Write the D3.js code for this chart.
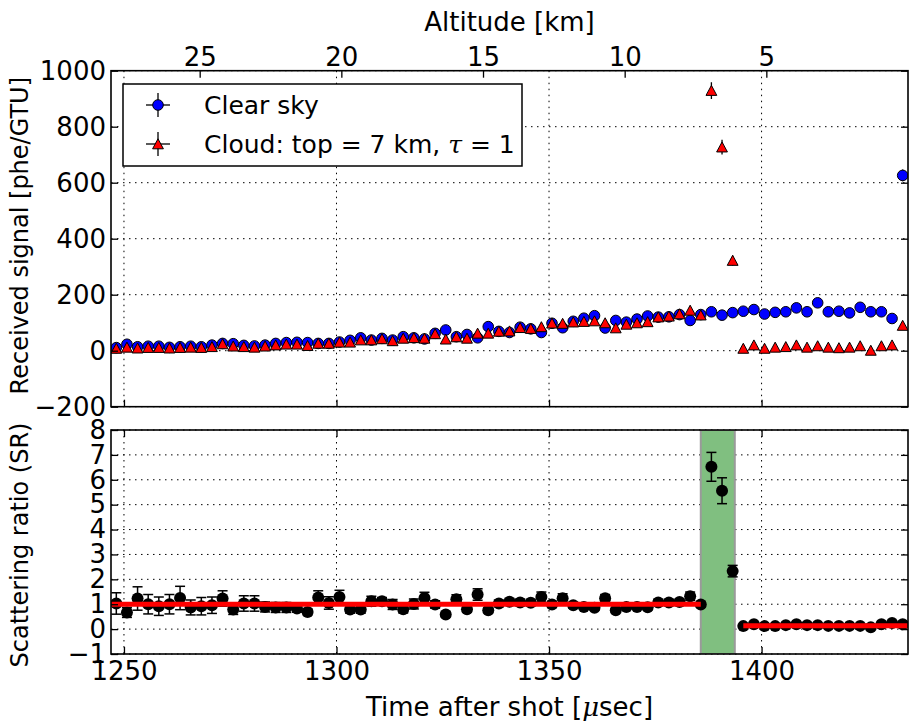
<!DOCTYPE html>
<html>
<head>
<meta charset="utf-8">
<script src="https://cdn.jsdelivr.net/npm/d3@7"></script>
<style>
  body { margin: 0; background: #fff; }
  svg { display: block; font-family: "DejaVu Sans", sans-serif; }
</style>
</head>
<body>
<svg id="chart" width="910" height="722"></svg>
<script>
// time after shot [usec], one point per GTU
const times = [
  1248.2, 1250.7, 1253.2, 1255.7, 1258.2, 1260.7, 1263.2, 1265.7, 1268.2, 1270.7,
  1273.2, 1275.7, 1278.2, 1280.7, 1283.2, 1285.7, 1288.2, 1290.7, 1293.2, 1295.7,
  1298.2, 1300.7, 1303.2, 1305.7, 1308.2, 1310.7, 1313.2, 1315.7, 1318.2, 1320.7,
  1323.2, 1325.7, 1328.2, 1330.7, 1333.2, 1335.7, 1338.2, 1340.7, 1343.2, 1345.7,
  1348.2, 1350.7, 1353.2, 1355.7, 1358.2, 1360.7, 1363.2, 1365.7, 1368.2, 1370.7,
  1373.2, 1375.7, 1378.2, 1380.7, 1383.2, 1385.7, 1388.2, 1390.7, 1393.2, 1395.7,
  1398.2, 1400.7, 1403.2, 1405.7, 1408.2, 1410.7, 1413.2, 1415.7, 1418.2, 1420.7,
  1423.2, 1425.7, 1428.2, 1430.7, 1433.2
];

// received signal [phe/GTU]
const clearSky = [
  11, 23, 14, 16, 16, 12, 14, 16, 14, 20,
  26, 25, 19, 17, 20, 26, 29, 30, 29, 26,
  26, 31, 37, 46, 38, 44, 38, 50, 46, 42,
  62, 74, 50, 58, 46, 86, 69, 65, 84, 78,
  65, 98, 82, 105, 116, 125, 81, 108, 102, 113,
  124, 120, 121, 129, 108, 129, 139, 127, 136, 141,
  147, 131, 137, 139, 153, 139, 171, 139, 141, 135,
  155, 139, 139, 115, 626
];
const clearSkyErr = [
  3, 5, 4, 4, 4, 3, 4, 4, 4, 4,
  5, 5, 4, 4, 4, 5, 5, 5, 5, 5,
  5, 6, 6, 7, 6, 7, 6, 7, 7, 6,
  8, 9, 7, 8, 7, 9, 8, 8, 9, 9,
  8, 10, 9, 10, 11, 11, 9, 10, 10, 11,
  11, 11, 11, 11, 10, 11, 12, 11, 12, 12,
  12, 11, 12, 12, 12, 12, 13, 12, 12, 12,
  12, 12, 12, 11, 21
];
const cloud = [
  8, 12, 9, 11, 11, 9, 11, 12, 11, 14,
  24, 16, 14, 12, 16, 20, 23, 23, 18, 26,
  26, 30, 30, 38, 38, 42, 35, 44, 46, 44,
  60, 41, 49, 44, 62, 62, 69, 70, 82, 79,
  85, 98, 97, 102, 104, 106, 99, 81, 94, 99,
  103, 120, 123, 131, 144, 127, 929, 727, 322, 8,
  20, 8, 12, 14, 20, 12, 17, 12, 10, 12,
  17, 1, 17, 20, 90
];
const cloudErr = [
  3, 3, 3, 3, 3, 3, 3, 3, 3, 4,
  5, 4, 4, 3, 4, 4, 5, 5, 4, 5,
  5, 5, 5, 6, 6, 6, 6, 7, 7, 7,
  8, 6, 7, 7, 8, 8, 8, 8, 9, 9,
  9, 10, 10, 10, 10, 10, 10, 9, 10, 10,
  10, 11, 11, 11, 12, 11, 30, 26, 18, 3,
  4, 3, 3, 4, 4, 3, 4, 3, 3, 3,
  4, 1, 4, 4, 9
];

// scattering ratio (SR)
const scatterRatio = [
  1.03, 0.67, 1.23, 1.0, 0.92, 1.0, 1.25, 0.87, 0.92, 0.96,
  1.23, 0.79, 1.03, 1.03, 0.89, 0.87, 0.87, 0.83, 0.69, 1.27,
  1.05, 1.29, 0.79, 0.79, 1.12, 1.12, 0.99, 0.8, 1.01, 1.25,
  0.99, 0.59, 1.2, 0.8, 1.39, 0.76, 1.03, 1.1, 1.07, 1.06,
  1.29, 0.99, 1.24, 0.96, 0.89, 0.86, 1.24, 0.76, 0.89, 0.89,
  0.88, 1.07, 1.07, 1.09, 1.32, 0.99, 6.52, 5.56, 2.33, 0.12,
  0.2, 0.12, 0.12, 0.16, 0.2, 0.16, 0.16, 0.13, 0.13, 0.13,
  0.13, 0.07, 0.2, 0.25, 0.2
];
const scatterRatioErr = [
  0.43, 0.2, 0.47, 0.39, 0.37, 0.39, 0.47, 0.3, 0.35, 0.33,
  0.31, 0.2, 0.31, 0.31, 0.2, 0.2, 0.2, 0.15, 0.12, 0.27,
  0.25, 0.27, 0.15, 0.15, 0.2, 0.15, 0.2, 0.15, 0.2, 0.23,
  0.15, 0.1, 0.18, 0.12, 0.23, 0.1, 0.13, 0.13, 0.13, 0.13,
  0.2, 0.12, 0.18, 0.12, 0.1, 0.1, 0.15, 0.08, 0.1, 0.1,
  0.1, 0.12, 0.12, 0.12, 0.17, 0.1, 0.58, 0.52, 0.23, 0.05,
  0.05, 0.05, 0.05, 0.05, 0.05, 0.05, 0.05, 0.05, 0.05, 0.05,
  0.05, 0.05, 0.05, 0.05, 0.05
];

// fitted SR levels: [from, to, level]
const fitSegments = [[1246.95, 1385.7, 1.0], [1395.7, 1434.45, 0.135]];
const cloudBand = [1385.7, 1393.7];

const timeDomain = [1246.95, 1434.45];
const altitudeDomain = [28.13, 0];
const timeTicks = [1250, 1300, 1350, 1400];
const altitudeTicks = [25, 20, 15, 10, 5];
const signalTicks = [-200, 0, 200, 400, 600, 800, 1000];
const ratioTicks = [-1, 0, 1, 2, 3, 4, 5, 6, 7, 8];

const fontSize = 26;
const legendFontSize = 25;
const yLabelSize = 24;
const left = 111, right = 908;
const top1 = 70.7, bottom1 = 406.7;
const top2 = 430, bottom2 = 654;
const fmt = d3.format("d");

const svg = d3.select("#chart");

const x = d3.scaleLinear().domain(timeDomain).range([left, right]);
const xAlt = d3.scaleLinear().domain(altitudeDomain).range([left, right]);
const ySig = d3.scaleLinear().domain([-200, 1000]).range([bottom1, top1]);
const ySr = d3.scaleLinear().domain([-1, 8]).range([bottom2, top2]);

svg.append("clipPath").attr("id", "clip-top")
  .append("rect").attr("x", left).attr("y", top1).attr("width", right - left).attr("height", bottom1 - top1);
svg.append("clipPath").attr("id", "clip-bot")
  .append("rect").attr("x", left).attr("y", top2).attr("width", right - left).attr("height", bottom2 - top2);

// dotted grid for one panel
function drawGrid(yScale, yTicks, y0, y1) {
  const g = svg.append("g")
    .attr("stroke", "#000")
    .attr("stroke-width", 1)
    .attr("stroke-dasharray", "1.5,4.5");
  g.selectAll(".vg").data(timeTicks).join("line")
    .attr("x1", d => x(d)).attr("x2", d => x(d))
    .attr("y1", y0).attr("y2", y1);
  g.selectAll(".hg").data(yTicks).join("line")
    .attr("x1", left).attr("x2", right)
    .attr("y1", d => yScale(d)).attr("y2", d => yScale(d));
}

function styleAxis(g) {
  g.attr("font-size", fontSize).attr("font-family", "DejaVu Sans, sans-serif");
  g.select(".domain").remove();
  g.selectAll(".tick line").attr("stroke-width", 1.3);
}

function drawSpines(y0, y1) {
  svg.append("rect")
    .attr("x", left).attr("y", y0)
    .attr("width", right - left).attr("height", y1 - y0)
    .attr("fill", "none").attr("stroke", "#000").attr("stroke-width", 1.6);
}

// ---------- top panel: received signal ----------
drawGrid(ySig, signalTicks, top1, bottom1);

const topMarks = svg.append("g").attr("clip-path", "url(#clip-top)");

topMarks.append("g").attr("stroke", "#000").attr("stroke-width", 1.3)
  .selectAll("line").data(times).join("line")
  .attr("x1", d => x(d)).attr("x2", d => x(d))
  .attr("y1", (d, i) => ySig(clearSky[i] - clearSkyErr[i]))
  .attr("y2", (d, i) => ySig(clearSky[i] + clearSkyErr[i]));

topMarks.append("g")
  .selectAll("circle").data(times).join("circle")
  .attr("cx", d => x(d))
  .attr("cy", (d, i) => ySig(clearSky[i]))
  .attr("r", 5.3)
  .attr("fill", "#0000ff").attr("stroke", "#000").attr("stroke-width", 1);

topMarks.append("g").attr("stroke", "#000").attr("stroke-width", 1.3)
  .selectAll("line").data(times).join("line")
  .attr("x1", d => x(d)).attr("x2", d => x(d))
  .attr("y1", (d, i) => ySig(cloud[i] - cloudErr[i]))
  .attr("y2", (d, i) => ySig(cloud[i] + cloudErr[i]));

const tri = "M0,-5.2L5.4,4.8L-5.4,4.8Z";
topMarks.append("g")
  .selectAll("path").data(times).join("path")
  .attr("transform", (d, i) => `translate(${x(d)},${ySig(cloud[i])})`)
  .attr("d", tri)
  .attr("fill", "#ff0000").attr("stroke", "#000").attr("stroke-width", 1);

// axes of the top panel
svg.append("g").attr("transform", `translate(0,${top1})`)
  .call(d3.axisTop(xAlt).tickValues(altitudeTicks).tickFormat(fmt).tickSizeInner(-7).tickSizeOuter(0).tickPadding(5))
  .call(styleAxis);
svg.append("g").attr("transform", `translate(0,${bottom1})`)
  .call(d3.axisBottom(x).tickValues(timeTicks).tickSizeInner(-7).tickSizeOuter(0).tickFormat(""))
  .call(styleAxis);
svg.append("g").attr("transform", `translate(${left},0)`)
  .call(d3.axisLeft(ySig).tickValues(signalTicks).tickFormat(fmt).tickSizeInner(-7).tickSizeOuter(0).tickPadding(5))
  .call(styleAxis);
svg.append("g").attr("transform", `translate(${right},0)`)
  .call(d3.axisRight(ySig).tickValues(signalTicks).tickSizeInner(-7).tickSizeOuter(0).tickFormat(""))
  .call(styleAxis);
drawSpines(top1, bottom1);

// legend
const legend = svg.append("g");
legend.append("rect")
  .attr("x", 123).attr("y", 84).attr("width", 399).attr("height", 82)
  .attr("fill", "#fff").attr("stroke", "#000").attr("stroke-width", 1.5);
const legendRows = [
  { y: 105, label: "Clear sky" },
  { y: 144, label: "Cloud: top = 7 km, " }
];
legendRows.forEach((row, i) => {
  legend.append("line").attr("x1", 146).attr("x2", 170).attr("y1", row.y).attr("y2", row.y)
    .attr("stroke", "#000").attr("stroke-width", 1.3);
  legend.append("line").attr("x1", 158).attr("x2", 158).attr("y1", row.y - 12).attr("y2", row.y + 12)
    .attr("stroke", "#000").attr("stroke-width", 1.3);
  if (i === 0) {
    legend.append("circle").attr("cx", 158).attr("cy", row.y).attr("r", 5.3)
      .attr("fill", "#0000ff").attr("stroke", "#000");
  } else {
    legend.append("path").attr("transform", `translate(158,${row.y})`).attr("d", tri)
      .attr("fill", "#ff0000").attr("stroke", "#000");
  }
  const t = legend.append("text").attr("x", 204).attr("y", row.y + 8.5)
    .attr("font-size", legendFontSize).text(row.label);
  if (i === 1) {
    t.append("tspan").attr("font-family", "DejaVu Serif, serif").attr("font-style", "italic").text("τ");
    t.append("tspan").text(" = 1");
  }
});

// ---------- bottom panel: scattering ratio ----------
drawGrid(ySr, ratioTicks, top2, bottom2);

const botMarks = svg.append("g").attr("clip-path", "url(#clip-bot)");

botMarks.append("rect")
  .attr("x", x(cloudBand[0])).attr("y", top2)
  .attr("width", x(cloudBand[1]) - x(cloudBand[0])).attr("height", bottom2 - top2)
  .attr("fill", "#80bf80").attr("stroke", "#9a9a9a").attr("stroke-width", 2);

const errG = botMarks.append("g").attr("stroke", "#000").attr("stroke-width", 1.5);
errG.selectAll(".bar").data(times).join("line")
  .attr("x1", d => x(d)).attr("x2", d => x(d))
  .attr("y1", (d, i) => ySr(scatterRatio[i] - scatterRatioErr[i]))
  .attr("y2", (d, i) => ySr(scatterRatio[i] + scatterRatioErr[i]));
[-1, 1].forEach(s => {
  errG.append("g").selectAll("line").data(times).join("line")
    .attr("x1", d => x(d) - 5).attr("x2", d => x(d) + 5)
    .attr("y1", (d, i) => ySr(scatterRatio[i] + s * scatterRatioErr[i]))
    .attr("y2", (d, i) => ySr(scatterRatio[i] + s * scatterRatioErr[i]));
});

botMarks.append("g")
  .selectAll("circle").data(times).join("circle")
  .attr("cx", d => x(d))
  .attr("cy", (d, i) => ySr(scatterRatio[i]))
  .attr("r", 6)
  .attr("fill", "#000");

botMarks.append("g")
  .selectAll("line").data(fitSegments).join("line")
  .attr("x1", d => x(d[0])).attr("x2", d => x(d[1]))
  .attr("y1", d => ySr(d[2])).attr("y2", d => ySr(d[2]))
  .attr("stroke", "#ff0000").attr("stroke-width", 5);

svg.append("g").attr("transform", `translate(0,${bottom2})`)
  .call(d3.axisBottom(x).tickValues(timeTicks).tickFormat(fmt).tickSizeInner(-7).tickSizeOuter(0).tickPadding(7.5))
  .call(styleAxis);
svg.append("g").attr("transform", `translate(0,${top2})`)
  .call(d3.axisTop(x).tickValues(timeTicks).tickSizeInner(-7).tickSizeOuter(0).tickFormat(""))
  .call(styleAxis);
svg.append("g").attr("transform", `translate(${left},0)`)
  .call(d3.axisLeft(ySr).tickValues(ratioTicks).tickFormat(fmt).tickSizeInner(-7).tickSizeOuter(0).tickPadding(5))
  .call(styleAxis);
svg.append("g").attr("transform", `translate(${right},0)`)
  .call(d3.axisRight(ySr).tickValues(ratioTicks).tickSizeInner(-7).tickSizeOuter(0).tickFormat(""))
  .call(styleAxis);
drawSpines(top2, bottom2);

// axis titles
svg.append("text")
  .attr("x", (left + right) / 2).attr("y", 31)
  .attr("text-anchor", "middle").attr("font-size", fontSize)
  .text("Altitude [km]");

const xTitle = svg.append("text")
  .attr("x", (left + right) / 2).attr("y", 716)
  .attr("text-anchor", "middle").attr("font-size", fontSize)
  .text("Time after shot [");
xTitle.append("tspan").attr("font-family", "DejaVu Serif, serif").attr("font-style", "italic").text("μ");
xTitle.append("tspan").text("sec]");

svg.append("text")
  .attr("transform", `translate(28,${(top1 + bottom1) / 2 - 3}) rotate(-90)`)
  .attr("text-anchor", "middle").attr("font-size", yLabelSize)
  .text("Received signal [phe/GTU]");

svg.append("text")
  .attr("transform", `translate(28,${(top2 + bottom2) / 2 + 3}) rotate(-90)`)
  .attr("text-anchor", "middle").attr("font-size", yLabelSize)
  .text("Scattering ratio (SR)");
</script>
</body>
</html>
